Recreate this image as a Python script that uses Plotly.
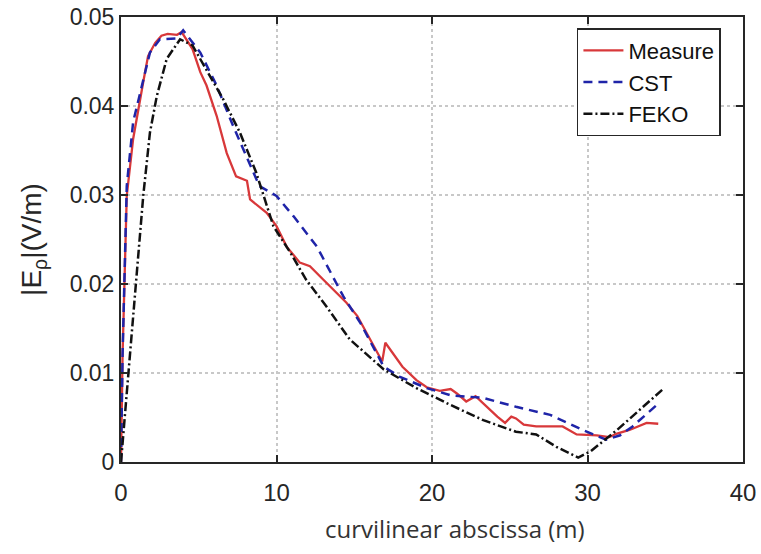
import plotly.graph_objects as go

# Measure (red solid)
meas_x = [0, 0.1, 0.37, 0.78, 1.43, 1.74, 2.2, 2.6, 3.0, 3.6, 3.9, 4.6, 5.1, 5.5, 6.15, 6.8, 7.4, 8.1, 8.3,
          9.37, 10.0, 10.65, 11.5, 12.15, 13.0, 13.9, 14.5, 15.2, 15.8, 16.3, 16.8, 17.0, 18.1, 19.0, 19.66,
          20.5, 21.2, 21.6, 22.2, 22.8, 23.5, 24.2, 24.7, 25.1, 25.4, 25.9, 26.7, 28.4, 29.3, 30.6, 31.4,
          31.9, 32.7, 33.8, 34.55]
meas_y = [0, 0.012, 0.0299, 0.0363, 0.0427, 0.0456, 0.0471, 0.0479, 0.0481, 0.048, 0.0483, 0.0464, 0.0438,
          0.0423, 0.0389, 0.0347, 0.0321, 0.0316, 0.0295, 0.028, 0.0265, 0.0242, 0.0224, 0.022, 0.0205,
          0.019, 0.0179, 0.0164, 0.0145, 0.0128, 0.0113, 0.0134, 0.0107, 0.0092, 0.0084, 0.008, 0.0082,
          0.0077, 0.0068, 0.0074, 0.0062, 0.0051, 0.0044, 0.0051, 0.0049, 0.0042, 0.004, 0.004, 0.0031,
          0.003, 0.0028, 0.0032, 0.0036, 0.0044, 0.0043]

# CST (blue dashed)
cst_x = [0, 0.1, 0.37, 0.78, 1.86, 2.5, 3.6, 4.0, 5.1, 6.15, 7.2, 8.3, 8.9, 10.0, 11.1, 12.6, 13.4, 14.3,
         15.4, 16.2, 16.9, 17.9, 19.66, 21.2, 23.3, 25.4, 27.6, 29.7, 31.2, 32.1, 32.9, 34.45]
cst_y = [0, 0.012, 0.031, 0.0382, 0.046, 0.0475, 0.0476, 0.0485, 0.046, 0.0423, 0.0378, 0.0334, 0.031,
         0.0299, 0.0276, 0.0242, 0.0216, 0.0186, 0.0156, 0.013, 0.0107, 0.0096, 0.0083, 0.0075, 0.0072,
         0.0062, 0.0053, 0.0036, 0.0025, 0.003, 0.004, 0.0064]

# FEKO (black dash-dot)
feko_x = [0, 0.7, 1.43, 1.86, 2.3, 2.94, 3.8, 4.6, 5.5, 6.56, 7.65, 8.7, 9.8, 10.9, 11.9, 13.2, 14.7,
          16.9, 19.0, 21.2, 23.3, 25.4, 26.7, 28.0, 29.4, 30.2, 31.9, 34.8]
feko_y = [0, 0.015, 0.0299, 0.037, 0.0411, 0.0453, 0.0475, 0.0468, 0.0441, 0.0408, 0.037, 0.0325, 0.0265,
          0.0235, 0.0205, 0.0175, 0.0138, 0.0104, 0.0083, 0.0064, 0.0047, 0.0034, 0.0031, 0.0017, 0.0005,
          0.0012, 0.0036, 0.0081]

x_ticks = [0, 10, 20, 30, 40]
y_ticks = [0, 0.01, 0.02, 0.03, 0.04, 0.05]
y_tick_labels = ["0", "0.01", "0.02", "0.03", "0.04", "0.05"]

fig = go.Figure()
fig.add_trace(go.Scatter(x=meas_x, y=meas_y, mode="lines", name="Measure",
                         line=dict(color="#d8383a", width=2.3)))
fig.add_trace(go.Scatter(x=cst_x, y=cst_y, mode="lines", name="CST",
                         line=dict(color="#1f24a8", width=2.5, dash="9px,6px")))
fig.add_trace(go.Scatter(x=feko_x, y=feko_y, mode="lines", name="FEKO",
                         line=dict(color="#111111", width=2.5, dash="9px,3px,2px,3px")))

axis_common = dict(
    showline=True, linecolor="#262626", linewidth=2, mirror="allticks",
    ticks="inside", ticklen=7, tickwidth=1.5, tickcolor="#262626",
    showgrid=True, gridcolor="#c8c8c8", griddash="dot", gridwidth=1.5,
    zeroline=False, automargin=False,
)

fig.update_xaxes(range=[0, 40], tickvals=x_ticks, **axis_common, ticklabelstandoff=8,
                 tickfont=dict(family="Liberation Sans, Arial", size=24, color="#262626"))
fig.update_yaxes(range=[0, 0.05], tickvals=y_ticks, ticktext=y_tick_labels, **axis_common,
                 tickfont=dict(family="Liberation Sans, Arial", size=23, color="#262626"),
                 title=dict(text="|E<sub>ρ</sub>|(V/m)", standoff=20,
                            font=dict(family="Liberation Sans, Arial", size=28, color="#262626")))

fig.add_annotation(text="curvilinear abscissa (m)", xref="paper", yref="paper",
                   x=0.537, y=-0.15, xanchor="center", yanchor="middle", showarrow=False,
                   font=dict(family="Open Sans", size=24, color="#333333"))

fig.update_layout(
    width=761, height=554,
    margin=dict(l=121, r=18, t=17, b=92),
    paper_bgcolor="white", plot_bgcolor="white",
    legend=dict(x=0.733, y=0.975, xanchor="left", yanchor="top",
                bgcolor="white", bordercolor="#262626", borderwidth=1.5,
                font=dict(family="Liberation Sans, Arial", size=22, color="#111111"),
                tracegroupgap=0, itemwidth=40),
    showlegend=True,
)

fig.write_html("out.html", post_script="document.body.style.margin='0';",
               config={"displayModeBar": False})
